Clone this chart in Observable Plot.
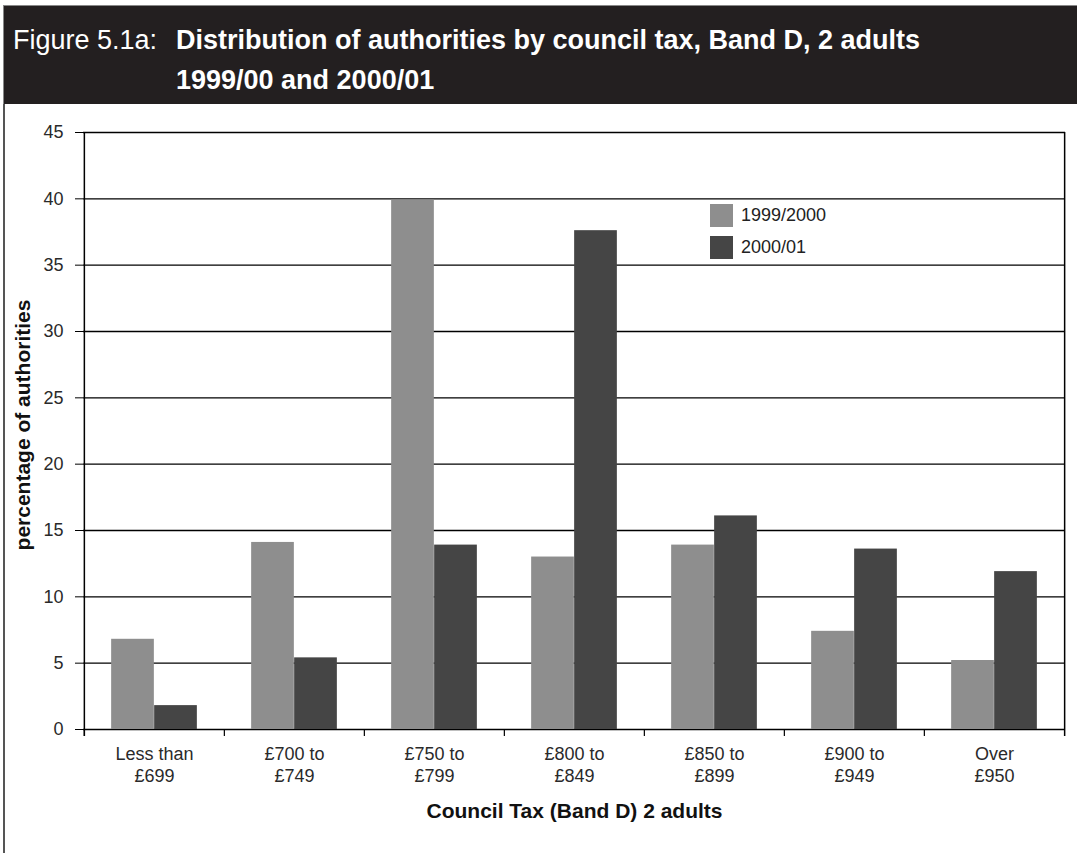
<!DOCTYPE html>
<html>
<head>
<meta charset="utf-8">
<script src="https://cdn.jsdelivr.net/npm/d3@7"></script>
<script src="https://cdn.jsdelivr.net/npm/@observablehq/plot@0.6"></script>
<style>
  body { margin: 0; background: #fff; font-family: "Liberation Sans", Arial, sans-serif; }
  #wrap { position: relative; width: 1077px; height: 853px; overflow: hidden; background: #fff; }
  #titlebar { position: absolute; left: 3px; top: 5px; width: 1074px; height: 99px; background: #231f20; color: #fff; border-top: 1px solid #888; border-left: 1px solid #888; box-sizing: border-box; }
  .tline { position: absolute; font-size: 27px; line-height: 27px; white-space: nowrap; color: #fff; }
  .bold { font-weight: bold; }
  #bodyline { position: absolute; left: 3px; top: 104px; width: 1.5px; height: 749px; background: #555; }
  #chart { position: absolute; left: 0; top: 105px; }
  .leg { position: absolute; display: flex; align-items: center; font-size: 18px; color: #222; }
  .sw { width: 23px; height: 23px; margin-right: 8px; }
</style>
</head>
<body>
<div id="wrap">
  <div id="titlebar">
    <div class="tline" style="left:9px;top:21px;">Figure 5.1a:</div>
    <div class="tline bold" style="left:172px;top:21px;">Distribution of authorities by council tax, Band D, 2 adults</div>
    <div class="tline bold" style="left:172px;top:61px;">1999/00 and 2000/01</div>
  </div>
  <div id="bodyline"></div>
  <div id="chart"></div>
  <div id="legend"></div>
</div>
<script>
const categories = ["Less than\n£699", "£700 to\n£749", "£750 to\n£799", "£800 to\n£849", "£850 to\n£899", "£900 to\n£949", "Over\n£950"];
const series = ["1999/2000", "2000/01"];
const values1999 = [6.8, 14.1, 39.9, 13.0, 13.9, 7.4, 5.2];
const values2000 = [1.8, 5.4, 13.9, 37.6, 16.1, 13.6, 11.9];
const yTicks = [0, 5, 10, 15, 20, 25, 30, 35, 40, 45];
const colors = ["#8e8e8e", "#454545"];
const xTitle = "Council Tax (Band D) 2 adults";
const yTitle = "percentage of authorities";

const data = categories.flatMap((c, i) => [
  {cat: c, series: series[0], value: values1999[i]},
  {cat: c, series: series[1], value: values2000[i]}
]);

const W = 1077, H = 748, mL = 83, mR = 12, mT = 27, mB = 124;
const step = (W - mL - mR) / categories.length;
const barW = 43;

const chart = Plot.plot({
  width: W, height: H,
  marginTop: mT, marginBottom: mB, marginLeft: mL, marginRight: mR,
  style: {fontFamily: "'Liberation Sans', Arial, sans-serif", fontSize: "18px", color: "#222", background: "transparent", overflow: "visible"},
  x: {domain: categories, padding: 0, axis: null},
  y: {domain: [0, 45], axis: null},
  color: {domain: series, range: colors},
  marks: [
    Plot.ruleY(yTicks, {stroke: "#000", strokeWidth: 1.4}),
    Plot.barY(data.filter(d => d.series === series[0]), {x: "cat", y: "value", fill: "series", insetLeft: step / 2 - barW, insetRight: step / 2}),
    Plot.barY(data.filter(d => d.series === series[1]), {x: "cat", y: "value", fill: "series", insetLeft: step / 2, insetRight: step / 2 - barW}),
    // category boundary ticks below the axis
    Plot.ruleX(categories, {x: d => d, dx: -step / 2, y1: 0, y2: -0.53, stroke: "#000", strokeWidth: 1.2}),
    Plot.ruleX([categories[categories.length - 1]], {x: d => d, dx: step / 2, y1: -0.53, y2: 45, stroke: "#000", strokeWidth: 1.5}),
    Plot.ruleX([categories[0]], {x: d => d, dx: -step / 2, y1: -0.53, y2: 45, stroke: "#000", strokeWidth: 1.5}),
    Plot.axisY({ticks: yTicks, tickSize: 8, tickPadding: 12, label: null, fontSize: 18, stroke: "#000", fill: "#2a2a2a"}),
    Plot.axisX({tickSize: 0, tickPadding: 16, label: null, fontSize: 18, lineHeight: 1.17, fill: "#2a2a2a"}),
    Plot.text([xTitle], {frameAnchor: "bottom", dy: 88, fontWeight: "bold", fontSize: 21, fill: "#111"}),
    Plot.text([yTitle], {frameAnchor: "left", dx: -60, dy: -6, rotate: -90, textAnchor: "middle", fontWeight: "bold", fontSize: 21, fill: "#111"})
  ]
});
document.getElementById("chart").appendChild(chart);

const legend = document.getElementById("legend");
series.forEach((s, i) => {
  const row = document.createElement("div");
  row.className = "leg";
  row.style.left = "710px";
  row.style.top = (204 + i * 32) + "px";
  const sw = document.createElement("div");
  sw.className = "sw";
  sw.style.background = colors[i];
  const t = document.createElement("span");
  t.textContent = s;
  row.appendChild(sw);
  row.appendChild(t);
  legend.appendChild(row);
});
</script>
</body>
</html>
